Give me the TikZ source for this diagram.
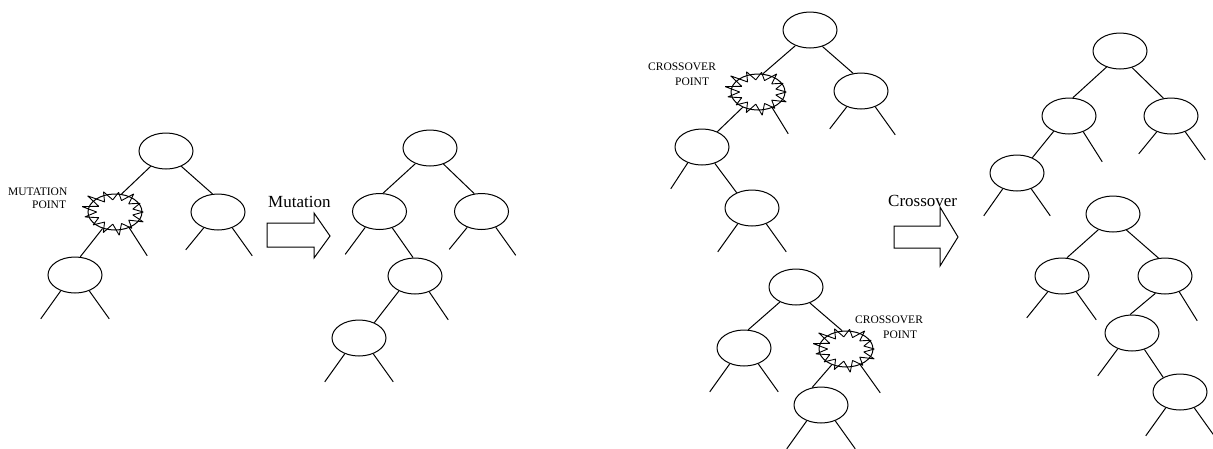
\documentclass[tikz,border=0pt]{standalone}
\usepackage{fontspec}
\setmainfont{Liberation Serif}
\usetikzlibrary{shapes.geometric}
\tikzset{
  tn/.style={ellipse, draw, line width=1pt, minimum width=54pt, minimum height=36pt, inner sep=0pt},
  ed/.style={line width=1pt},
  burstline/.style={line width=0.9pt, line join=bevel},
  smalllab/.style={font=\fontsize{11.5}{13}\selectfont, inner sep=0pt, anchor=base west},
  biglab/.style={font=\fontsize{17}{20}\selectfont, inner sep=0pt, anchor=base west},
  blockarrow/.style={draw, line width=1pt, fill=white, line join=miter}
}
\newcommand\mkburst[1]{%
  \draw[burstline, shift={(#1.center)}] ({27*1.05},{0})
    \foreach \f [count=\i from 0] in {1.05,1.18,1.1,1.3,1.22,1.08,1.15,1.25,1.35,1.2,1.1,1.22,1.05} {
      -- ({27*\f*cos(\i*360/13)},{18*\f*sin(\i*360/13)})
      -- ({27*0.68*cos((\i+0.5)*360/13)},{18*0.68*sin((\i+0.5)*360/13)})
    } -- cycle;}
\begin{document}
\begin{tikzpicture}[x=1pt,y=-1pt]
\useasboundingbox[fill=white] (0,0) rectangle (1213,448);

% ---------- Tree A (before mutation)
\node[tn] (A1) at (166,151) {};
\node[tn] (A2) at (115,212) {};
\node[tn] (A3) at (218,212) {};
\node[tn] (A4) at (75,275) {};
\draw[ed] (A1.-135) -- (A2.70);
\draw[ed] (A1.-45) -- (A3.107);
\draw[ed] (A2.-127) -- (A4.74);
\draw[ed] (A2.-48) -- ++(18,28);
\draw[ed] (A3.-132) -- ++(-18,22);
\draw[ed] (A3.-48) -- ++(20,28);
\draw[ed] (A4.-132) -- ++(-20,28);
\draw[ed] (A4.-48) -- ++(20,28);
\mkburst{A2}
\node[smalllab] (mlab1) at (8,195.5) {MUTATION};
\node[smalllab] (mlab2) at (32,208.5) {POINT};

% mutation arrow
\draw[blockarrow] (267,223) -- (314,223) -- (314,213) -- (330,236) -- (314,258) -- (314,247) -- (267,247) -- cycle;
\node[biglab] (mut) at (268,207) {Mutation};

% ---------- Tree B (after mutation)
\node[tn] (B1) at (430,148) {};
\node[tn] (B2) at (379.5,211.5) {};
\node[tn] (B3) at (481.5,211.5) {};
\node[tn] (B4) at (415,276) {};
\node[tn] (B5) at (359,338) {};
\draw[ed] (B1.-133) -- (B2.79);
\draw[ed] (B1.-50) -- (B3.112);
\draw[ed] (B2.-52) -- (B4.96);
\draw[ed] (B4.-137) -- (B5.45);
\draw[ed] (B2.-132) -- ++(-20,27);
\draw[ed] (B3.-132) -- ++(-18,22);
\draw[ed] (B3.-48) -- ++(20,28);
\draw[ed] (B4.-48) -- ++(19,28);
\draw[ed] (B5.-132) -- ++(-20,28);
\draw[ed] (B5.-48) -- ++(20,28);

% ---------- Tree C (crossover parent 1)
\node[tn] (C1) at (810,30) {};
\node[tn] (C2) at (758,92) {};
\node[tn] (C3) at (861,91) {};
\node[tn] (C4) at (702,147) {};
\node[tn] (C5) at (752,208) {};
\draw[ed] (C1.-133) -- (C2.75);
\draw[ed] (C1.-53) -- (C3.114);
\draw[ed] (C2.-135) -- (C4.45);
\draw[ed] (C4.-52) -- (C5.135);
\draw[ed] (C2.-48) -- ++(16,26);
\draw[ed] (C3.-132) -- ++(-17,22);
\draw[ed] (C3.-48) -- ++(20,28);
\draw[ed] (C4.-132) -- ++(-17,26);
\draw[ed] (C5.-132) -- ++(-20,28);
\draw[ed] (C5.-48) -- ++(20,28);
\mkburst{C2}
\node[smalllab] (c1lab1) at (648,70) {CROSSOVER};
\node[smalllab] (c1lab2) at (675,85) {POINT};

% ---------- Tree D (crossover parent 2)
\node[tn] (D1) at (796,287) {};
\node[tn] (D2) at (744,348) {};
\node[tn] (D3) at (846,349) {};
\node[tn] (D4) at (821,405) {};
\draw[ed] (D1.-137) -- (D2.77);
\draw[ed] (D1.-49) -- (D3.102);
\draw[ed] (D3.-132) -- (D4.117);
\draw[ed] (D2.-132) -- ++(-20,28);
\draw[ed] (D2.-48) -- ++(20,28);
\draw[ed] (D3.-48) -- ++(20,28);
\draw[ed] (D4.-132) -- ++(-20,28);
\draw[ed] (D4.-48) -- ++(20,28);
\mkburst{D3}
\node[smalllab] (c2lab1) at (855,323.5) {CROSSOVER};
\node[smalllab] (c2lab2) at (883,338.5) {POINT};

% crossover arrow
\draw[blockarrow] (894,226) -- (940,226) -- (940,207) -- (958,237) -- (940,266) -- (940,248) -- (894,248) -- cycle;
\node[biglab] (cro) at (888,206) {Crossover};

% ---------- Tree E (offspring 1)
\node[tn] (E1) at (1120,51) {};
\node[tn] (E2) at (1069,116) {};
\node[tn] (E3) at (1171,116) {};
\node[tn] (E4) at (1017,173) {};
\draw[ed] (E1.-130) -- (E2.78);
\draw[ed] (E1.-54) -- (E3.113);
\draw[ed] (E2.-135) -- (E4.45);
\draw[ed] (E2.-48) -- ++(19,30);
\draw[ed] (E3.-132) -- ++(-18,22);
\draw[ed] (E3.-48) -- ++(20,28);
\draw[ed] (E4.-132) -- ++(-19,27);
\draw[ed] (E4.-48) -- ++(19,27);

% ---------- Tree F (offspring 2)
\node[tn] (F1) at (1113,214) {};
\node[tn] (F2) at (1062,276) {};
\node[tn] (F3) at (1165,276) {};
\node[tn] (F4) at (1132,333) {};
\node[tn] (F5) at (1180,392) {};
\draw[ed] (F1.-133) -- (F2.75);
\draw[ed] (F1.-50) -- (F3.110);
\draw[ed] (F3.-119) -- (F4.96);
\draw[ed] (F4.-53) -- (F5.139);
\draw[ed] (F2.-132) -- ++(-21,26);
\draw[ed] (F2.-48) -- ++(20,28);
\draw[ed] (F3.-48) -- ++(18,29);
\draw[ed] (F4.-132) -- ++(-20,27);
\draw[ed] (F5.-132) -- ++(-20,28);
\draw[ed] (F5.-48) -- ++(20,28);
\end{tikzpicture}
\end{document}
